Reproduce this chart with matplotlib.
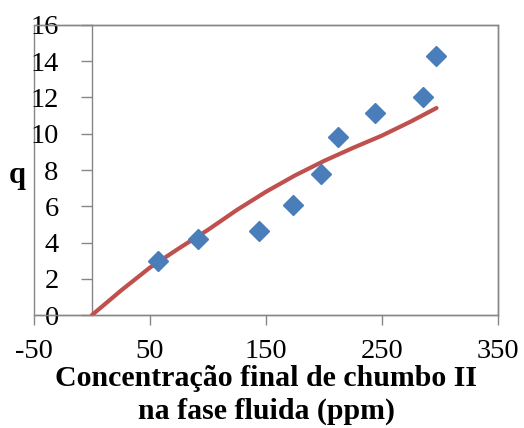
import matplotlib
matplotlib.use('Agg')  # Non-interactive backend
import matplotlib.pyplot as plt
from matplotlib.patches import Rectangle

plt.rcParams['font.family'] = ['Liberation Serif', 'DejaVu Serif']

# measured points
conc = [56.6, 91.6, 144.3, 173.0, 197.0, 211.8, 243.7, 285.0, 296.3]
q_exp = [2.98, 4.19, 4.62, 6.07, 7.76, 9.82, 11.14, 12.05, 14.29]

# model curve
conc_fit = [0, 25, 50, 75, 100, 125, 150, 175, 200, 225, 250, 275, 297]
q_fit = [0, 1.35, 2.62, 3.68, 4.7, 5.8, 6.8, 7.7, 8.5, 9.22, 9.9, 10.68, 11.42]

x_ticks = [-50, 50, 150, 250, 350]
y_ticks = [0, 2, 4, 6, 8, 10, 12, 14, 16]

GRAY = "#868686"
BLUE = "#4A7EBB"
RED = "#C0504D"

fig = plt.figure(figsize=(5.24, 4.28), dpi=100)
ax = fig.add_axes([0.0649, 0.264, 0.8855, 0.6776])

ax.plot(conc_fit, q_fit, color=RED, linewidth=3, solid_capstyle="round",
        solid_joinstyle="round", zorder=3)
ax.plot(conc, q_exp, linestyle="none", marker="D", markersize=10,
        color=BLUE, markeredgecolor=BLUE, zorder=4)

ax.set_xlim(-50, 350)
ax.set_ylim(0, 16)

# vertical axis crosses at x = 0 like the Excel original
ax.spines["left"].set_position(("data", 0))
for s in ax.spines.values():
    s.set_color(GRAY)
    s.set_linewidth(1.0)

# outer plot-area frame
ax.add_patch(Rectangle((0, 0), 1, 1, transform=ax.transAxes, fill=False,
                       edgecolor=GRAY, linewidth=1.0, clip_on=False, zorder=1))

ax.set_xticks(x_ticks)
ax.set_xticklabels([str(v) for v in x_ticks])
ax.set_yticks(y_ticks)
ax.set_yticklabels([str(v) for v in y_ticks])
ax.tick_params(axis="x", direction="out", length=7, width=1.0, color=GRAY,
               labelsize=20.5, pad=10)
ax.tick_params(axis="y", direction="out", length=8, width=1.0, color=GRAY,
               labelsize=20.5, pad=16)

ax.set_xlabel("Concentração final de chumbo II\nna fase fluida (ppm)",
              fontsize=21.5, fontweight="bold", labelpad=1, linespacing=1.25)
fig.text(0.033, 0.59, "q", fontsize=22, fontweight="bold", ha="center", va="center")

fig.savefig("out.png", dpi=100, facecolor="white")
